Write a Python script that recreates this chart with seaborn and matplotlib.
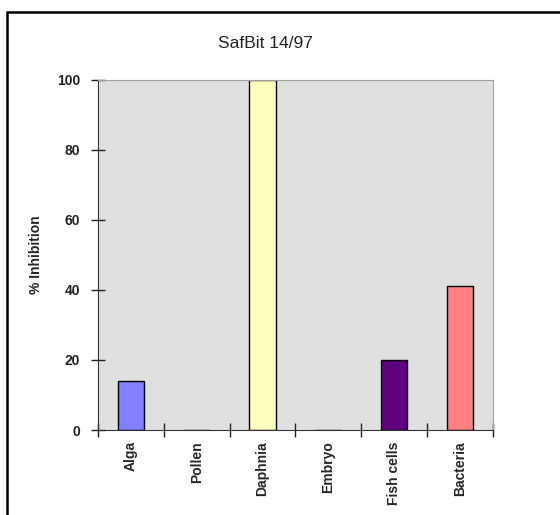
import numpy as np
import pandas as pd
import matplotlib.pyplot as plt
import matplotlib.patches as patches
import seaborn as sns

# data
tests = ["Alga", "Pollen", "Daphnia", "Embryo", "Fish cells", "Bacteria"]
inhibition = [14, 0, 100, 0, 20, 41]
colours = ["#8080FF", "#8080FF", "#FFFFC0", "#8080FF", "#600080", "#FF8080"]

df = pd.DataFrame({"test": tests, "inhib": inhibition})

sns.set_style("white")
plt.rcParams["font.family"] = ["Liberation Sans", "DejaVu Sans"]

fig = plt.figure(figsize=(5.6, 5.15), dpi=100)
ax = fig.add_axes([0.175, 0.165, 0.705, 0.680])

sns.barplot(data=df, x="test", y="inhib", hue="test",
            palette=dict(zip(tests, colours)), legend=False, saturation=1,
            width=0.4, edgecolor="black", linewidth=1, ax=ax)

ax.set_facecolor("#E0E0E0")
ax.set_xlim(-0.5, 5.5)
ax.set_ylim(0, 100)
ax.set_yticks(np.arange(0, 101, 20))
ax.tick_params(axis="y", left=True, direction="inout", length=10, width=1,
               color="#222222", labelsize=10, pad=8, labelcolor="#222222")
ax.tick_params(axis="x", which="major", bottom=False, length=0, labelsize=10,
               labelrotation=90, pad=8)
ax.set_xticks(np.arange(-0.5, 6, 1), minor=True)
ax.tick_params(axis="x", which="minor", bottom=True, direction="inout",
               length=10, width=1, color="#222222")
for lab in ax.get_xticklabels() + ax.get_yticklabels():
    lab.set_fontweight("bold")

for s in ["top", "right"]:
    ax.spines[s].set_color("#A0A0A0")
for s in ["left", "bottom"]:
    ax.spines[s].set_color("#333333")

ax.set_xlabel("")
ax.set_ylabel("% Inhibition", fontsize=10, fontweight="bold", labelpad=10)

fig.text(265 / 560, 1 - 44 / 515, "SafBit 14/97", ha="center", va="center",
         fontsize=12.5, color="#222222")

frame = patches.Rectangle((7 / 560, -0.05), 1.1, 1 - 12 / 515 + 0.05,
                          transform=fig.transFigure, fill=False,
                          edgecolor="black", linewidth=1.8, clip_on=False)
fig.patches.append(frame)

fig.savefig("out.png", dpi=100)
